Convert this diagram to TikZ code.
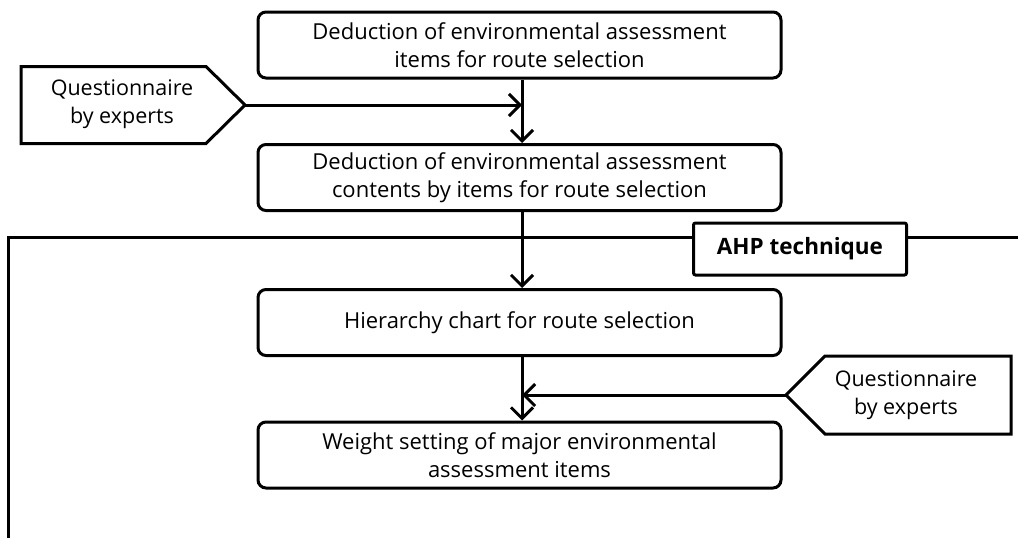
\documentclass[tikz,border=0pt]{standalone}
\usepackage{fontspec}
\setmainfont{Open Sans}
\usetikzlibrary{arrows.meta}
\tikzset{
  stepbox/.style={draw, line width=3pt, rounded corners=8pt, minimum width=523pt, minimum height=66pt, align=center, inner sep=0pt, font=\fontsize{22}{28}\selectfont},
  qtext/.style={align=center, inner sep=0pt, font=\fontsize{21.5}{28}\selectfont},
  conn/.style={line width=3pt, -{Straight Barb[length=11pt, width=22pt, line width=3pt]}},
  plain/.style={line width=3pt},
}
\begin{document}
\begin{tikzpicture}[x=1pt,y=-1pt]
\useasboundingbox (0,0) rectangle (1018,538);
% frame
\draw[plain, line cap=butt] (8,540) -- (8,237) -- (1020,237);
\node[draw, line width=3pt, rounded corners=2pt, fill=white, minimum width=213pt, minimum height=52pt, inner sep=0pt, font=\fontsize{22.5}{24}\selectfont\bfseries] (ahp) at (800,249) {AHP technique};
% boxes
\node[stepbox] (b1) at (519.5,45) {Deduction of environmental assessment\\items for route selection};
\node[stepbox] (b2) at (519.5,177.5) {Deduction of environmental assessment\\contents by items for route selection};
\node[stepbox] (b3) at (519.5,322.5) {Hierarchy chart for route selection};
\node[stepbox] (b4) at (519.5,455) {Weight setting of major environmental\\assessment items};
% questionnaires
\draw[plain, line join=miter] (21,66.5) -- (206,66.5) -- (245,105) -- (206,143.5) -- (21,143.5) -- cycle;
\coordinate (q1tip) at (245,105);
\node[qtext] (q1) at (122,104) {Questionnaire\\by experts};
\draw[plain, line join=miter] (1011,356) -- (825,356) -- (786,395) -- (825,434) -- (1011,434) -- cycle;
\coordinate (q2tip) at (786,395);
\node[qtext] (q2) at (906,395) {Questionnaire\\by experts};
% connectors
\coordinate (j1) at (522,105);
\coordinate (j2) at (522,395);
\draw[conn] ([xshift=2.5pt]b1.south) -- ([xshift=2.5pt]b2.north);
\draw[conn] (q1tip) -- (j1);
\draw[conn] ([xshift=2.5pt]b2.south) -- ([xshift=2.5pt]b3.north);
\draw[conn] ([xshift=2.5pt]b3.south) -- ([xshift=2.5pt]b4.north);
\draw[conn] (q2tip) -- (j2);
\end{tikzpicture}
\end{document}
